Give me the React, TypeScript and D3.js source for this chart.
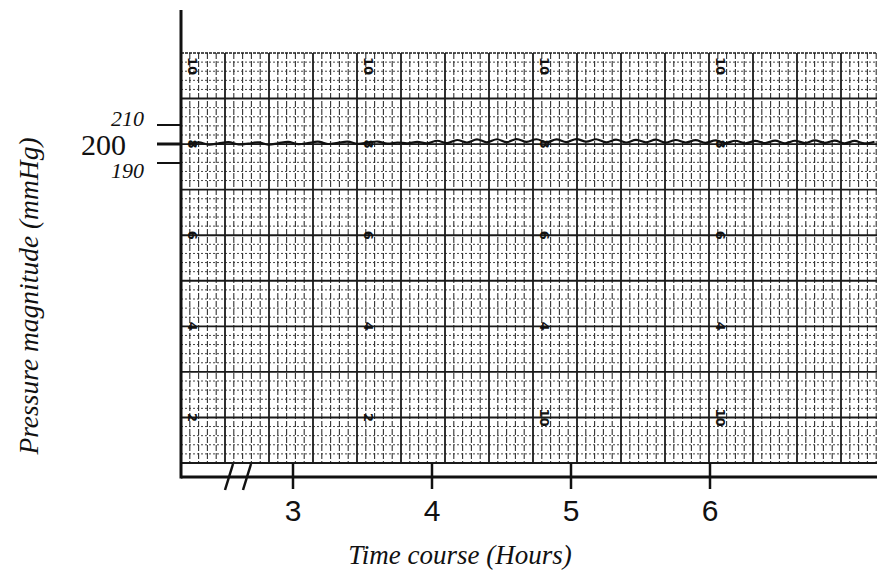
import React from 'react';
import * as d3 from 'd3';

// pressure trace (mmHg), read every ~0.072 h from the strip
const pressure = [
  200.0, 200.9, 199.7, 200.3, 201.0, 199.8, 200.2, 200.9, 199.7, 200.4,
  201.1, 199.9, 200.5, 201.2, 200.0, 200.6, 201.2, 200.1, 200.7, 201.3,
  200.2, 200.8, 200.3, 201.1, 200.4,
  201.7, 200.5, 202.1, 200.8, 202.4, 200.9, 202.5, 201.0, 202.6, 201.1,
  202.5, 200.9, 202.4, 201.0, 202.6, 201.2, 202.5, 200.9, 202.3, 200.8,
  202.2, 200.9, 202.3, 200.7, 202.1, 200.8, 202.0, 200.6, 201.9,
  200.5, 201.7, 200.4, 201.6, 200.5, 201.8, 200.4, 201.7, 200.5, 201.9,
  200.6, 201.8, 200.4, 201.6, 200.3, 201.2,
];
const traceStart = 2.25; // hours
const traceStep = 0.0715; // hours between samples

const hourTicks = [3, 4, 5, 6];
const pressureTicks = [190, 200, 210];

// chart-paper printed numbers, one list per labelled column (top to bottom)
const paperRows = [45, 35, 25, 15, 5];
const paperColumns = [0, 20, 40, 60];
const paperNumbers = [
  ['10', '8', '6', '4', '2'],
  ['10', '8', '6', '4', '2'],
  ['10', '8', '6', '4', '10'],
  ['10', '8', '6', '4', '10'],
];

const W = 877, H = 573;
const left = 181, right = 877, gridTop = 53, gridBottom = 463, axisY = 477;

export default function App() {
  const x = d3.scaleLinear().domain([3, 4]).range([293, 432]);
  const y = d3.scaleLinear().domain([190, 210]).range([163, 125]);
  // paper grid in minor-division units
  const px = d3.scaleLinear().domain([0, 1]).range([left, left + 8.8]);
  const py = d3.scaleLinear().domain([0, 45]).range([gridBottom, gridTop]);

  const vLines = d3.range(0, 80).filter(i => px(i) <= right);
  const hLines = d3.range(0, 46);

  const line = d3.line<number>()
    .x((d, i) => x(traceStart + i * traceStep))
    .y(d => y(d))
    .curve(d3.curveCatmullRom);

  const serif = '"Liberation Serif", "Times New Roman", serif';

  return (
    <svg width={W} height={H} style={{ position: 'absolute', left: 0, top: 0, background: '#fff' }}>
      <defs>
        <clipPath id="paper">
          <rect x={left} y={gridTop - 1} width={right - left} height={gridBottom - gridTop + 2} />
        </clipPath>
      </defs>

      <g clipPath="url(#paper)">
        {/* minor horizontals */}
        {hLines.filter(j => j % 5 !== 0).map(j => (
          <line key={'h' + j} x1={left} x2={right} y1={py(j)} y2={py(j)}
            stroke="#444" strokeWidth={1} strokeDasharray="2,2" />
        ))}
        {/* minor verticals */}
        {vLines.filter(i => i % 5 !== 0).map(i => (
          <line key={'v' + i} x1={px(i)} x2={px(i)} y1={gridTop} y2={gridBottom}
            stroke="#333" strokeWidth={1.1} strokeDasharray="6,2" />
        ))}
        {/* major verticals */}
        {vLines.filter(i => i % 5 === 0).map(i => (
          <line key={'V' + i} x1={px(i)} x2={px(i)} y1={gridTop} y2={gridBottom}
            stroke="#1a1a1a" strokeWidth={1.8} />
        ))}
        {/* major horizontals */}
        {hLines.filter(j => j % 5 === 0).map(j => (
          <line key={'H' + j} x1={left} x2={right} y1={py(j)} y2={py(j)}
            stroke="#1a1a1a" strokeWidth={j === 45 ? 1.3 : 1.9} strokeDasharray={j === 45 ? '3,1' : undefined} />
        ))}
        {/* printed paper numbers */}
        {paperColumns.map((c, ci) => paperRows.map((r, ri) => {
          const cx = px(c) + 12;
          const cy = r === 45 ? py(r) + 13 : py(r);
          return (
            <text key={ci + '-' + ri} x={cx} y={cy} transform={`rotate(90,${cx},${cy})`}
              textAnchor="middle" dy="0.35em" fontFamily='"DejaVu Sans", sans-serif'
              fontWeight="bold" fontSize={13} fill="#111">
              {paperNumbers[ci][ri]}
            </text>
          );
        }))}
        {/* pressure trace */}
        <path d={line(pressure) || ''} fill="none" stroke="#111" strokeWidth={2.2} />
      </g>

      {/* axes */}
      <line x1={left} x2={left} y1={10} y2={axisY + 1.5} stroke="#111" strokeWidth={3} />
      <line x1={left} x2={right} y1={axisY} y2={axisY} stroke="#111" strokeWidth={3} />

      {/* axis break */}
      {[0, 18].map(o => (
        <line key={'b' + o} x1={225 + o} y1={490} x2={233 + o} y2={464} stroke="#111" strokeWidth={2.5} />
      ))}

      {/* x ticks */}
      {hourTicks.map(t => (
        <g key={'t' + t}>
          <line x1={x(t)} x2={x(t)} y1={gridBottom} y2={489} stroke="#111" strokeWidth={2.5} />
          <text x={x(t)} y={521} textAnchor="middle" fontFamily='"Liberation Sans", Arial, sans-serif'
            fontSize={30} fill="#111">{t}</text>
        </g>
      ))}

      {/* y ticks */}
      {pressureTicks.map(p => (
        <g key={'p' + p}>
          <line x1={157} x2={left} y1={y(p)} y2={y(p)} stroke="#111" strokeWidth={p === 200 ? 3 : 2} />
          <text x={p === 200 ? 126 : 144} y={y(p)} dy={p === 200 ? '0.38em' : p === 210 ? '0.05em' : '0.66em'}
            textAnchor="end" fontFamily={serif} fontStyle={p === 200 ? 'normal' : 'italic'}
            fontSize={p === 200 ? 30 : 22} fill="#111">{p}</text>
        </g>
      ))}

      {/* axis titles */}
      <text x={460} y={564} textAnchor="middle" fontFamily={serif} fontStyle="italic" fontSize={27} fill="#111">
        Time course (Hours)
      </text>
      <text transform="translate(38,296) rotate(-90)" textAnchor="middle" fontFamily={serif}
        fontStyle="italic" fontSize={27.5} fill="#111">
        Pressure magnitude (mmHg)
      </text>
    </svg>
  );
}
